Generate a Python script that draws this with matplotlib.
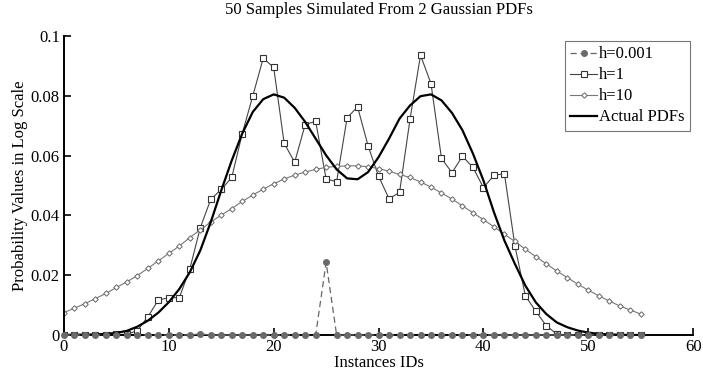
import numpy as np
import matplotlib.pyplot as plt

plt.rcParams["font.family"] = ["Liberation Serif", "DejaVu Serif"]
plt.rcParams["font.size"] = 12

# instance ids 0..55
ids = list(range(56))

# h=0.001 estimate (almost all zero)
h0001 = [0.0] * 56
h0001[13] = 0.0004
h0001[25] = 0.0243

# h=1 estimate
h1 = [0, 0, 0, 0, 0.0001, 0.0002, 0.0002, 0.0015, 0.0061, 0.0117,
      0.0125, 0.0125, 0.0221, 0.0359, 0.0454, 0.0487, 0.0527, 0.0674, 0.0799, 0.0926,
      0.0895, 0.0641, 0.0578, 0.0704, 0.0715, 0.0522, 0.0513, 0.0727, 0.0763, 0.0633,
      0.0531, 0.0456, 0.0477, 0.0722, 0.0936, 0.0841, 0.0591, 0.0543, 0.0598, 0.0561,
      0.0493, 0.0534, 0.0540, 0.0299, 0.0131, 0.0079, 0.0031, 0.0003, 0, 0,
      0, 0, 0, 0, 0, 0]

# h=10 estimate
h10 = [0.0075, 0.0090, 0.0105, 0.0122, 0.0139, 0.0159, 0.0178, 0.0199, 0.0223, 0.0248,
       0.0273, 0.0298, 0.0326, 0.0352, 0.0378, 0.0401, 0.0423, 0.0447, 0.0468, 0.0488,
       0.0506, 0.0522, 0.0535, 0.0545, 0.0554, 0.0561, 0.0564, 0.0566, 0.0566, 0.0563,
       0.0557, 0.0548, 0.0537, 0.0527, 0.0512, 0.0495, 0.0475, 0.0455, 0.0432, 0.0409,
       0.0386, 0.0362, 0.0337, 0.0313, 0.0287, 0.0262, 0.0238, 0.0214, 0.0192, 0.0170,
       0.0150, 0.0131, 0.0114, 0.0097, 0.0084, 0.0070]

# actual mixture pdf
actual = [0, 0.0001, 0.0001, 0.0002, 0.0004, 0.0007, 0.0014, 0.0028, 0.0048, 0.0075,
          0.0110, 0.0154, 0.0210, 0.0283, 0.0378, 0.0484, 0.0584, 0.0674, 0.0746, 0.0789,
          0.0805, 0.0794, 0.0760, 0.0713, 0.0657, 0.0601, 0.0554, 0.0524, 0.0521, 0.0545,
          0.0595, 0.0657, 0.0724, 0.0768, 0.0799, 0.0805, 0.0785, 0.0743, 0.0685, 0.0607,
          0.0517, 0.0411, 0.0316, 0.0238, 0.0165, 0.0109, 0.0070, 0.0042, 0.0026, 0.0015,
          0.0008, 0.0004, 0.0002, 0.0001, 0, 0]

fig = plt.figure(figsize=(7.03, 3.76), dpi=100)
ax = fig.add_axes([0.091, 0.109, 0.895, 0.795])

ax.plot(ids, h0001, "--", color="#666666", lw=0.9, marker="o", ms=4,
        mfc="#6a6a6a", mec="#6a6a6a", dashes=(5, 3), zorder=5, clip_on=False,
        label="h=0.001")
ax.plot(ids, h1, "-", color="#444444", lw=0.8, marker="s", ms=4.5,
        mfc="white", mec="#333333", mew=0.8, label="h=1")
ax.plot(ids, h10, "-", color="#777777", lw=0.8, marker="D", ms=2.8,
        mfc="white", mec="#666666", mew=0.7, label="h=10")
ax.plot(ids, actual, "-", color="black", lw=1.6, label="Actual PDFs")

ax.set_xlim(0, 60)
ax.set_ylim(0, 0.1)
ax.set_xticks([0, 10, 20, 30, 40, 50, 60])
ax.set_yticks([0, 0.02, 0.04, 0.06, 0.08, 0.1])
ax.set_yticklabels(["0", "0.02", "0.04", "0.06", "0.08", "0.1"])
ax.tick_params(direction="in", length=5, width=1.2, pad=3)
ax.spines["top"].set_visible(False)
ax.spines["right"].set_visible(False)
ax.spines["left"].set_linewidth(1.4)
ax.spines["bottom"].set_linewidth(1.4)

ax.set_title("50 Samples Simulated From 2 Gaussian PDFs", fontsize=12, pad=16)
ax.set_xlabel("Instances IDs", labelpad=0)
ax.set_ylabel("Probability Values in Log Scale", labelpad=2)

leg = ax.legend(loc="upper right", bbox_to_anchor=(0.995, 0.985), fancybox=False,
                handlelength=1.6, handletextpad=0.1, borderpad=0.35,
                labelspacing=0.3, borderaxespad=0)
leg.get_frame().set_edgecolor("#555555")
leg.get_frame().set_linewidth(0.8)

plt.savefig("out.png", dpi=100)
